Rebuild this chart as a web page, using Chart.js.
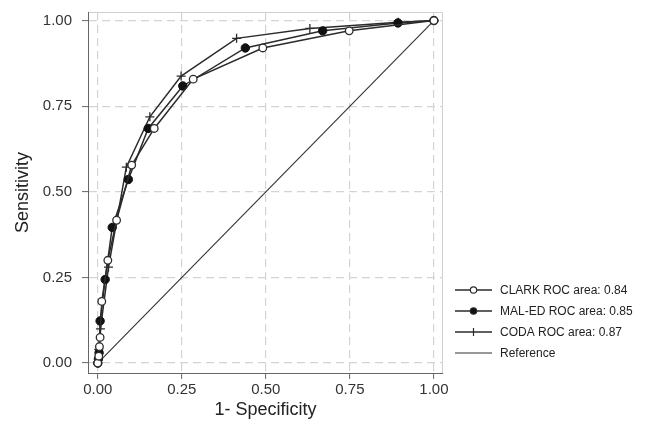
<!DOCTYPE html>
<html>
<head>
<meta charset="utf-8">
<script src="https://cdn.jsdelivr.net/npm/chart.js@4"></script>
<style>
  html, body { margin: 0; padding: 0; background: #fff; }
  #wrap { width: 646px; height: 433px; }
</style>
</head>
<body>
<div id="wrap"><canvas id="myChart" width="646" height="433"></canvas></div>
<script>
// ROC points (1 - specificity, sensitivity)
const clarkX = [0, 0.003, 0.005, 0.007, 0.012, 0.030, 0.056, 0.101, 0.168, 0.284, 0.491, 0.748, 1];
const clarkY = [0, 0.020, 0.048, 0.075, 0.180, 0.300, 0.417, 0.578, 0.685, 0.829, 0.920, 0.970, 1];
const maledX = [0, 0.002, 0.004, 0.007, 0.022, 0.043, 0.091, 0.150, 0.253, 0.439, 0.669, 0.893, 1];
const maledY = [0, 0.012, 0.030, 0.123, 0.244, 0.396, 0.536, 0.685, 0.809, 0.920, 0.970, 0.993, 1];
const codaX = [0, 0.003, 0.008, 0.032, 0.085, 0.155, 0.248, 0.413, 0.631, 0.894, 1];
const codaY = [0, 0.040, 0.100, 0.280, 0.572, 0.719, 0.838, 0.948, 0.977, 0.995, 1];
const refX = [0, 1];
const refY = [0, 1];

const tickVals = [0, 0.25, 0.5, 0.75, 1];
const legendLabels = ['CLARK ROC area: 0.84', 'MAL-ED ROC area: 0.85', 'CODA ROC area: 0.87', 'Reference'];

const pts = (xs, ys) => xs.map((x, i) => ({x: x, y: ys[i]}));
const lineCol = '#2b2b2b';
const FONT = "'Liberation Sans', Arial, Helvetica, sans-serif";

var ctx = document.getElementById('myChart');

// frame + custom legend (line sample with marker in the middle)
const framePlugin = {
  id: 'frame',
  beforeDraw(chart) {
    const c = chart.ctx, a = chart.chartArea;
    c.save();
    c.fillStyle = '#fff';
    c.fillRect(0, 0, chart.width, chart.height);
    c.strokeStyle = '#cfcfcf';
    c.lineWidth = 1;
    c.beginPath();
    c.moveTo(a.left, a.top + 0.5);
    c.lineTo(a.right - 0.5, a.top + 0.5);
    c.lineTo(a.right - 0.5, a.bottom);
    c.stroke();
    c.restore();
  },
  afterDraw(chart) {
    const c = chart.ctx;
    const x0 = 455, x1 = 492, tx = 500;
    const rows = [290, 311, 332, 353];
    c.save();
    c.font = '12px ' + FONT;
    c.textBaseline = 'middle';
    chart.data.datasets.forEach((ds, i) => {
      const y = rows[i];
      c.strokeStyle = ds.borderColor;
      c.lineWidth = ds.borderWidth;
      c.beginPath();
      c.moveTo(x0, y);
      c.lineTo(x1, y);
      c.stroke();
      const mx = (x0 + x1) / 2;
      if (ds.pointStyle === 'circle' && ds.pointRadius > 0) {
        c.beginPath();
        c.arc(mx, y, 3.2, 0, Math.PI * 2);
        c.fillStyle = ds.pointBackgroundColor;
        c.fill();
        c.lineWidth = 1.2;
        c.strokeStyle = lineCol;
        c.stroke();
      } else if (ds.pointStyle === 'cross') {
        c.lineWidth = 1.2;
        c.beginPath();
        c.moveTo(mx, y - 4);
        c.lineTo(mx, y + 4);
        c.stroke();
      }
      c.fillStyle = '#222';
      c.fillText(legendLabels[i], tx, y + 1);
    });
    c.restore();
  }
};

const dataObj = {
  type: 'scatter',
  data: {
    datasets: [{
      label: legendLabels[0],
      data: pts(clarkX, clarkY),
      showLine: true,
      borderColor: lineCol,
      borderWidth: 1.5,
      pointStyle: 'circle',
      pointRadius: 3.8,
      pointBorderWidth: 1.3,
      pointBorderColor: lineCol,
      pointBackgroundColor: '#ffffff'
    }, {
      label: legendLabels[1],
      data: pts(maledX, maledY),
      showLine: true,
      borderColor: lineCol,
      borderWidth: 1.5,
      pointStyle: 'circle',
      pointRadius: 4.2,
      pointBorderWidth: 1,
      pointBorderColor: '#111',
      pointBackgroundColor: '#111'
    }, {
      label: legendLabels[2],
      data: pts(codaX, codaY),
      showLine: true,
      borderColor: lineCol,
      borderWidth: 1.5,
      pointStyle: 'cross',
      pointRadius: 4.5,
      pointBorderWidth: 1.3,
      pointBorderColor: lineCol,
      pointBackgroundColor: lineCol
    }, {
      label: legendLabels[3],
      data: pts(refX, refY),
      showLine: true,
      borderColor: '#333',
      borderWidth: 1.1,
      pointRadius: 0
    }]
  },
  options: {
    responsive: false,
    animation: false,
    events: [],
    layout: { padding: { top: 12, right: 203, left: 0, bottom: 0 } },
    plugins: { legend: { display: false }, tooltip: { enabled: false } },
    scales: {
      x: {
        type: 'linear',
        min: -0.029,
        max: 1.027,
        afterBuildTicks: s => { s.ticks = tickVals.map(v => ({value: v})); },
        afterFit: s => { s.height = 60; s.paddingLeft = 0; s.paddingRight = 0; },
        ticks: {
          callback: v => Number(v).toFixed(2),
          color: '#333',
          font: { size: 15, family: FONT },
          padding: 2,
          maxRotation: 0
        },
        grid: { color: '#d4d4d4', lineWidth: 1.2, tickColor: '#666', tickLength: 6, tickWidth: 1 },
        border: { display: true, color: '#666', width: 1, dash: [8, 5] },
        title: {
          display: true,
          text: '1- Specificity',
          color: '#222',
          font: { size: 18, family: FONT },
          padding: { top: 4, bottom: 12 }
        }
      },
      y: {
        type: 'linear',
        min: -0.029,
        max: 1.025,
        afterBuildTicks: s => { s.ticks = tickVals.map(v => ({value: v})); },
        afterFit: s => { s.width = 88; s.paddingTop = 0; s.paddingBottom = 0; },
        ticks: {
          callback: v => Number(v).toFixed(2),
          color: '#333',
          font: { size: 15, family: FONT },
          padding: 10
        },
        grid: { color: '#d4d4d4', lineWidth: 1.2, tickColor: '#666', tickLength: 6, tickWidth: 1 },
        border: { display: true, color: '#666', width: 1, dash: [8, 5] },
        title: {
          display: true,
          text: 'Sensitivity',
          color: '#222',
          font: { size: 18, family: FONT },
          padding: { top: 12, bottom: 4 }
        }
      }
    }
  },
  plugins: [framePlugin]
};

var myChart = new Chart(ctx, dataObj);
</script>
</body>
</html>
